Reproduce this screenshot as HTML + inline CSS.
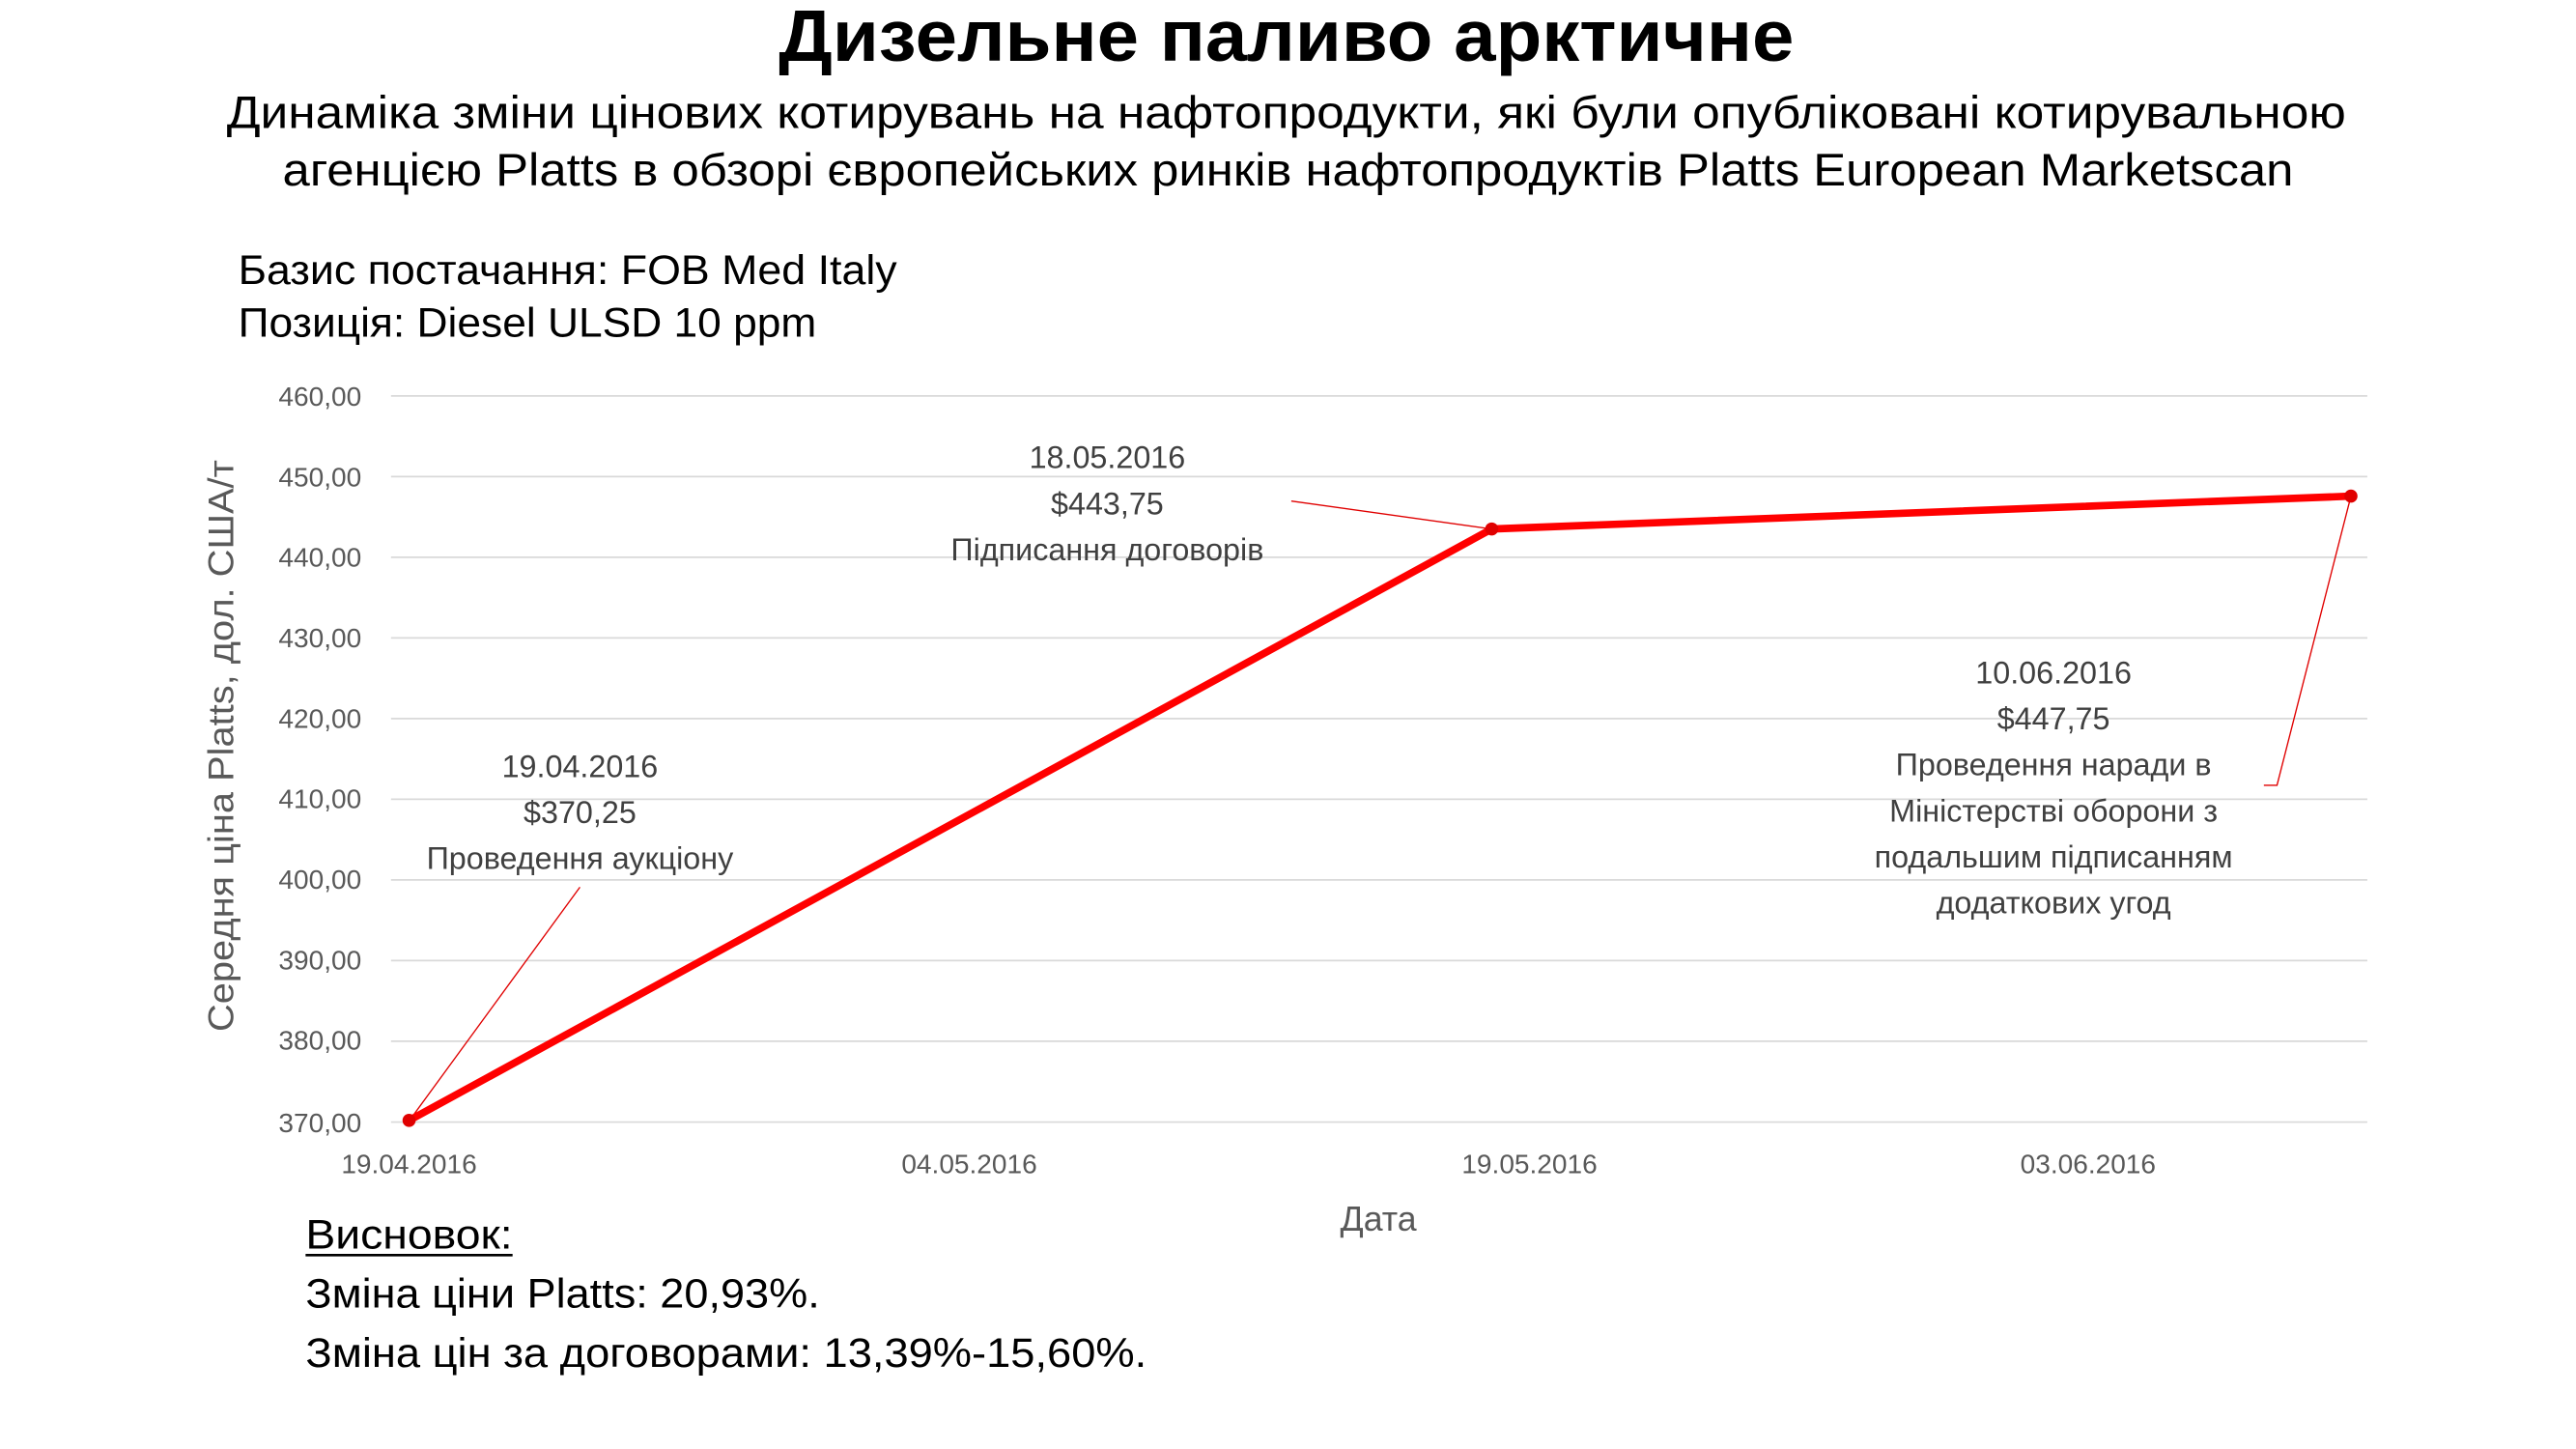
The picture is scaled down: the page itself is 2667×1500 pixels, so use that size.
<!DOCTYPE html>
<html><head><meta charset="utf-8"><style>
html,body{margin:0;padding:0;background:#fff;width:2667px;height:1500px;overflow:hidden}
svg{display:block}
text{font-family:"Liberation Sans","DejaVu Sans",sans-serif}
</style></head><body>
<svg width="2667" height="1500" viewBox="0 0 1568 882" preserveAspectRatio="none" xmlns="http://www.w3.org/2000/svg">
<rect width="1568" height="882" fill="#fff"/>
<text x="783" y="37" font-size="44" font-weight="bold" text-anchor="middle" textLength="618" lengthAdjust="spacingAndGlyphs">Дизельне паливо арктичне</text>
<text x="783" y="78" font-size="28" text-anchor="middle" textLength="1290" lengthAdjust="spacingAndGlyphs">Динаміка зміни цінових котирувань на нафтопродукти, які були опубліковані котирувальною</text>
<text x="784" y="113" font-size="28" text-anchor="middle" textLength="1224" lengthAdjust="spacingAndGlyphs">агенцією Platts в обзорі європейських ринків нафтопродуктів Platts European Marketscan</text>
<text x="145" y="173" font-size="25" textLength="401" lengthAdjust="spacingAndGlyphs">Базис постачання: FOB Med Italy</text>
<text x="145" y="205" font-size="25" textLength="352" lengthAdjust="spacingAndGlyphs">Позиція: Diesel ULSD 10 ppm</text>
<g stroke="#d9d9d9" stroke-width="1">
<line x1="238" x2="1441" y1="241" y2="241"/><line x1="238" x2="1441" y1="290.1" y2="290.1"/>
<line x1="238" x2="1441" y1="339.2" y2="339.2"/><line x1="238" x2="1441" y1="388.3" y2="388.3"/>
<line x1="238" x2="1441" y1="437.4" y2="437.4"/><line x1="238" x2="1441" y1="486.5" y2="486.5"/>
<line x1="238" x2="1441" y1="535.6" y2="535.6"/><line x1="238" x2="1441" y1="584.7" y2="584.7"/>
<line x1="238" x2="1441" y1="633.8" y2="633.8"/><line x1="238" x2="1441" y1="683" y2="683"/>
</g>
<g font-size="16.5" fill="#595959" text-anchor="end">
<text x="220" y="247">460,00</text><text x="220" y="296">450,00</text><text x="220" y="345">440,00</text>
<text x="220" y="394">430,00</text><text x="220" y="443">420,00</text><text x="220" y="492">410,00</text>
<text x="220" y="541">400,00</text><text x="220" y="590">390,00</text><text x="220" y="639">380,00</text>
<text x="220" y="689">370,00</text>
</g>
<g font-size="16.5" fill="#595959" text-anchor="middle">
<text x="249" y="714">19.04.2016</text><text x="590" y="714">04.05.2016</text>
<text x="931" y="714">19.05.2016</text><text x="1271" y="714">03.06.2016</text>
</g>
<text x="839" y="749" font-size="21" fill="#595959" text-anchor="middle">Дата</text>
<text transform="translate(142,454) rotate(-90)" font-size="22" fill="#595959" text-anchor="middle" textLength="348" lengthAdjust="spacingAndGlyphs">Середня ціна Platts, дол. США/т</text>
<g stroke="#e00000" stroke-width="0.8" fill="none">
<line x1="353" y1="540" x2="250" y2="681"/>
<line x1="786" y1="305" x2="908" y2="322"/>
<polyline points="1378,478 1386,478 1431,302"/>
</g>
<polyline points="249,682 908,322 1431,302" fill="none" stroke="#ff0000" stroke-width="4.5" stroke-linejoin="round"/>
<circle cx="249" cy="682" r="4" fill="#e00000"/><circle cx="908" cy="322" r="4" fill="#e00000"/><circle cx="1431" cy="302" r="4" fill="#e00000"/>
<g font-size="19" fill="#404040" text-anchor="middle">
<text x="353" y="473">19.04.2016</text><text x="353" y="501">$370,25</text><text x="353" y="529">Проведення аукціону</text>
<text x="674" y="285">18.05.2016</text><text x="674" y="313">$443,75</text><text x="674" y="341">Підписання договорів</text>
<text x="1250" y="416">10.06.2016</text><text x="1250" y="444">$447,75</text>
<text x="1250" y="472">Проведення наради в</text><text x="1250" y="500">Міністерстві оборони з</text>
<text x="1250" y="528">подальшим підписанням</text><text x="1250" y="556">додаткових угод</text>
</g>
<text x="186" y="760" font-size="25" textLength="126" lengthAdjust="spacingAndGlyphs">Висновок:</text>
<line x1="186" y1="764" x2="312" y2="764" stroke="#000" stroke-width="1.5"/>
<text x="186" y="796" font-size="25" textLength="313" lengthAdjust="spacingAndGlyphs">Зміна ціни Platts: 20,93%.</text>
<text x="186" y="832" font-size="25" textLength="512" lengthAdjust="spacingAndGlyphs">Зміна цін за договорами: 13,39%-15,60%.</text>
</svg>
</body></html>
